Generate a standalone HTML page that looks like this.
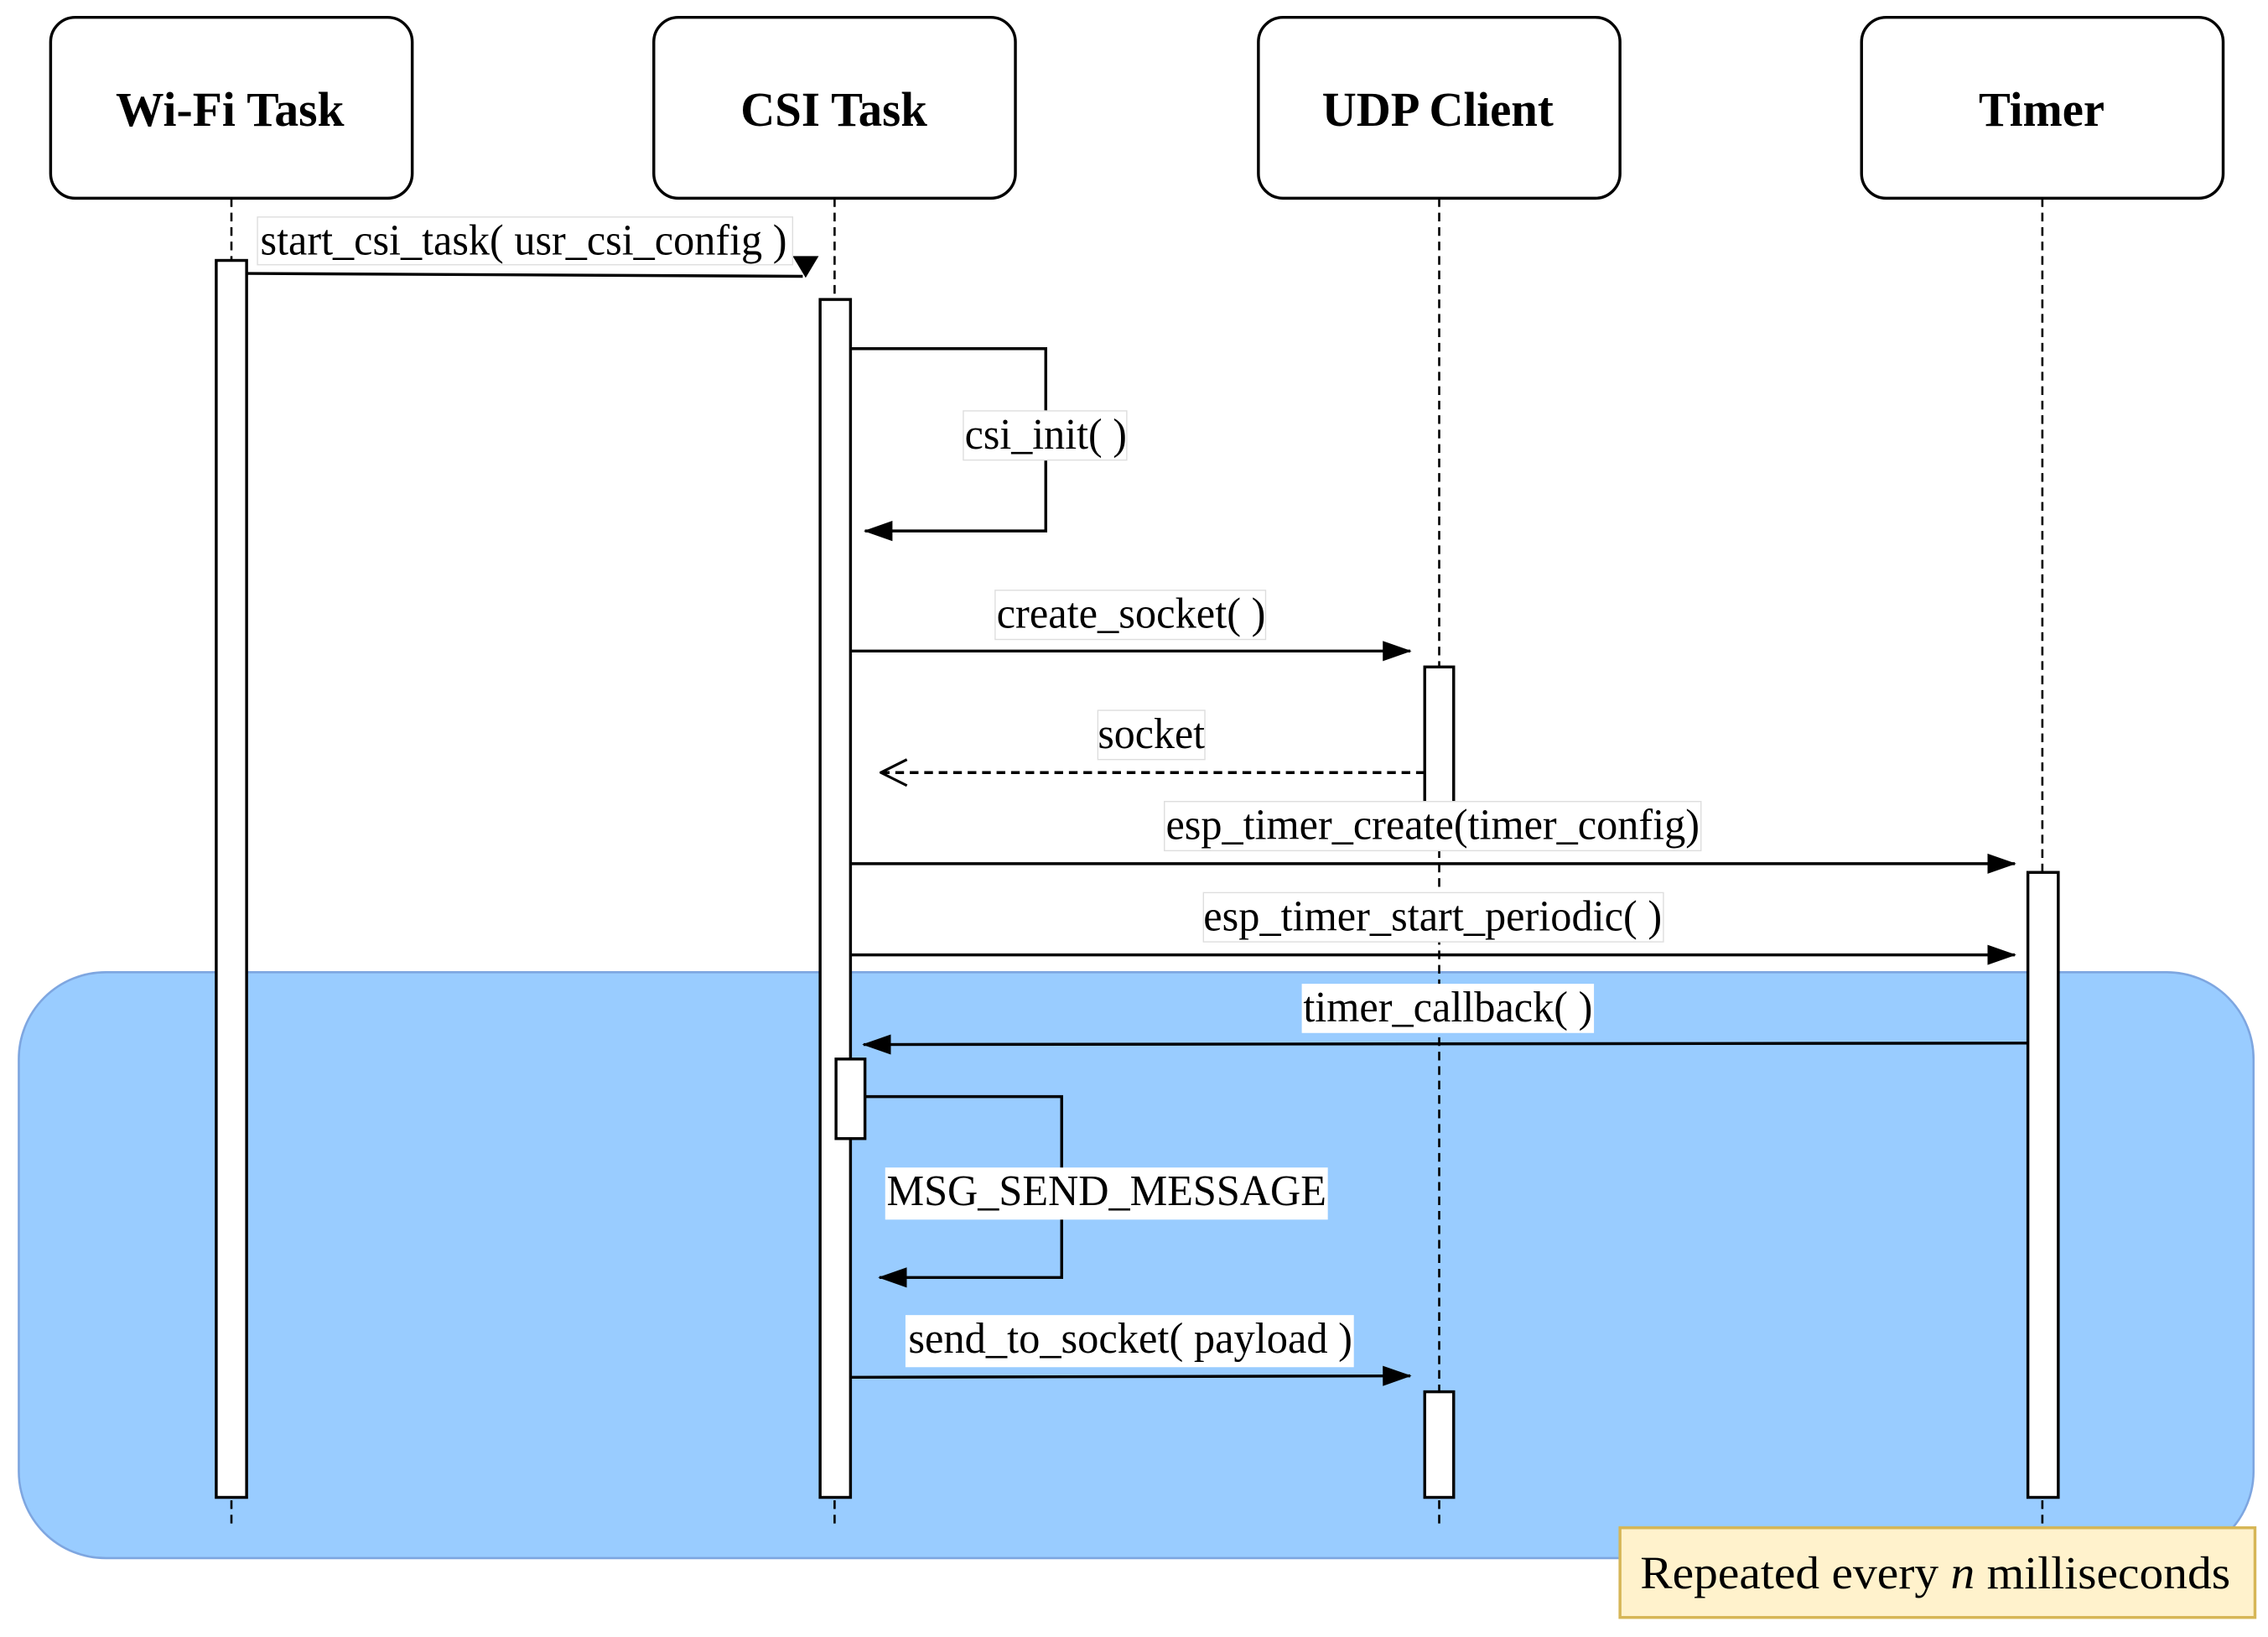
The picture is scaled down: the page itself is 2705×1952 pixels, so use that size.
<!DOCTYPE html>
<html><head><meta charset="utf-8"><style>html,body{margin:0;padding:0;background:#fff}svg{display:block}text{font-family:"Liberation Serif",serif}</style></head>
<body>
<svg width="2705" height="1952" viewBox="0 0 1568 1131.5" xmlns="http://www.w3.org/2000/svg">
<defs>
<marker id="a" markerWidth="20" markerHeight="16" refX="19" refY="8" orient="auto" markerUnits="userSpaceOnUse" viewBox="0 0 20 16"><path d="M0,1 L20,8 L0,15 Z" fill="#000"/></marker>
<marker id="o" markerWidth="20" markerHeight="20" refX="19" refY="10" orient="auto" markerUnits="userSpaceOnUse" viewBox="0 0 20 20"><path d="M1,1 L19,10 L1,19" fill="none" stroke="#000" stroke-width="1.8"/></marker>
</defs>
<rect width="1568" height="1131.5" fill="#fff"/>
<rect x="13" y="672" width="1545" height="405" rx="60" fill="#99ccff" stroke="#7ea6e0" stroke-width="1.5"/>
<g stroke="#000" stroke-width="1.5" stroke-dasharray="6,4">
<line x1="160" y1="137" x2="160" y2="1056"/>
<line x1="577" y1="137" x2="577" y2="1056"/>
<line x1="995" y1="137" x2="995" y2="1056"/>
<line x1="1412" y1="137" x2="1412" y2="1056"/>
</g>
<g fill="#fff" stroke="#000" stroke-width="2">
<rect x="35" y="12" width="250" height="125" rx="17"/>
<rect x="452" y="12" width="250" height="125" rx="17"/>
<rect x="870" y="12" width="250" height="125" rx="17"/>
<rect x="1287" y="12" width="250" height="125" rx="17"/>
</g>
<g font-weight="bold" font-size="34" lengthAdjust="spacingAndGlyphs">
<text x="80" y="87" textLength="158" lengthAdjust="spacingAndGlyphs">Wi-Fi Task</text>
<text x="512" y="87" textLength="129" lengthAdjust="spacingAndGlyphs">CSI Task</text>
<text x="914" y="87" textLength="160" lengthAdjust="spacingAndGlyphs">UDP Client</text>
<text x="1368" y="87" textLength="87" lengthAdjust="spacingAndGlyphs">Timer</text>
</g>
<g fill="#fff" stroke="#000" stroke-width="2">
<rect x="149.5" y="180" width="21" height="855"/>
<rect x="567" y="207" width="21" height="828"/>
<rect x="985" y="461" width="20" height="94"/>
<rect x="985" y="962" width="20" height="73"/>
<rect x="1402" y="603" width="21" height="432"/>
<rect x="578" y="732" width="20" height="55"/>
</g>
<g stroke="#000" stroke-width="2" fill="none">
<line x1="171" y1="189" x2="555" y2="191"/>
<polyline points="588,241 723,241 723,367 598,367" marker-end="url(#a)"/>
<line x1="588" y1="450" x2="975" y2="450" marker-end="url(#a)"/>
<line x1="985" y1="534" x2="609" y2="534" stroke-dasharray="6,4" marker-end="url(#o)"/>
<line x1="588" y1="597" x2="1393" y2="597" marker-end="url(#a)"/>
<line x1="588" y1="660" x2="1393" y2="660" marker-end="url(#a)"/>
<line x1="1402" y1="721" x2="597" y2="722" marker-end="url(#a)"/>
<polyline points="598,758 734,758 734,883 608,883" marker-end="url(#a)"/>
<line x1="588" y1="952" x2="975" y2="951" marker-end="url(#a)"/>
</g>
<path d="M548,177 L566,177 L557,192 Z" fill="#000"/>
<g fill="#fff" stroke="#ddd" stroke-width="0.8">
<rect x="178" y="150" width="370" height="33"/>
<rect x="666" y="284" width="113" height="34"/>
<rect x="688" y="408" width="187" height="34"/>
<rect x="759" y="491" width="74" height="34"/>
<rect x="805" y="554" width="371" height="34"/>
<rect x="832" y="617" width="318" height="34"/>
<rect x="900" y="680" width="202" height="34" stroke="none"/>
<rect x="612" y="807" width="306" height="36" stroke="none"/>
<rect x="626" y="909" width="310" height="36" stroke="none"/>
</g>
<g font-size="30" fill="#000">
<text x="180" y="176" textLength="364" lengthAdjust="spacingAndGlyphs">start_csi_task( usr_csi_config )</text>
<text x="667" y="310" textLength="112" lengthAdjust="spacingAndGlyphs">csi_init( )</text>
<text x="689" y="434" textLength="186" lengthAdjust="spacingAndGlyphs">create_socket( )</text>
<text x="759" y="517" textLength="74" lengthAdjust="spacingAndGlyphs">socket</text>
<text x="806" y="580" textLength="369" lengthAdjust="spacingAndGlyphs">esp_timer_create(timer_config)</text>
<text x="832" y="643" textLength="317" lengthAdjust="spacingAndGlyphs">esp_timer_start_periodic( )</text>
<text x="901" y="706" textLength="200" lengthAdjust="spacingAndGlyphs">timer_callback( )</text>
<text x="613" y="833" textLength="304" lengthAdjust="spacingAndGlyphs">MSG_SEND_MESSAGE</text>
<text x="628" y="935" textLength="307" lengthAdjust="spacingAndGlyphs">send_to_socket( payload )</text>
</g>
<rect x="1120" y="1056" width="439" height="62" fill="#fff2cc" stroke="#d6b656" stroke-width="2"/>
<text x="1134" y="1098" font-size="32" textLength="408" lengthAdjust="spacingAndGlyphs">Repeated every <tspan font-style="italic">n</tspan> milliseconds</text>
</svg>
</body></html>
